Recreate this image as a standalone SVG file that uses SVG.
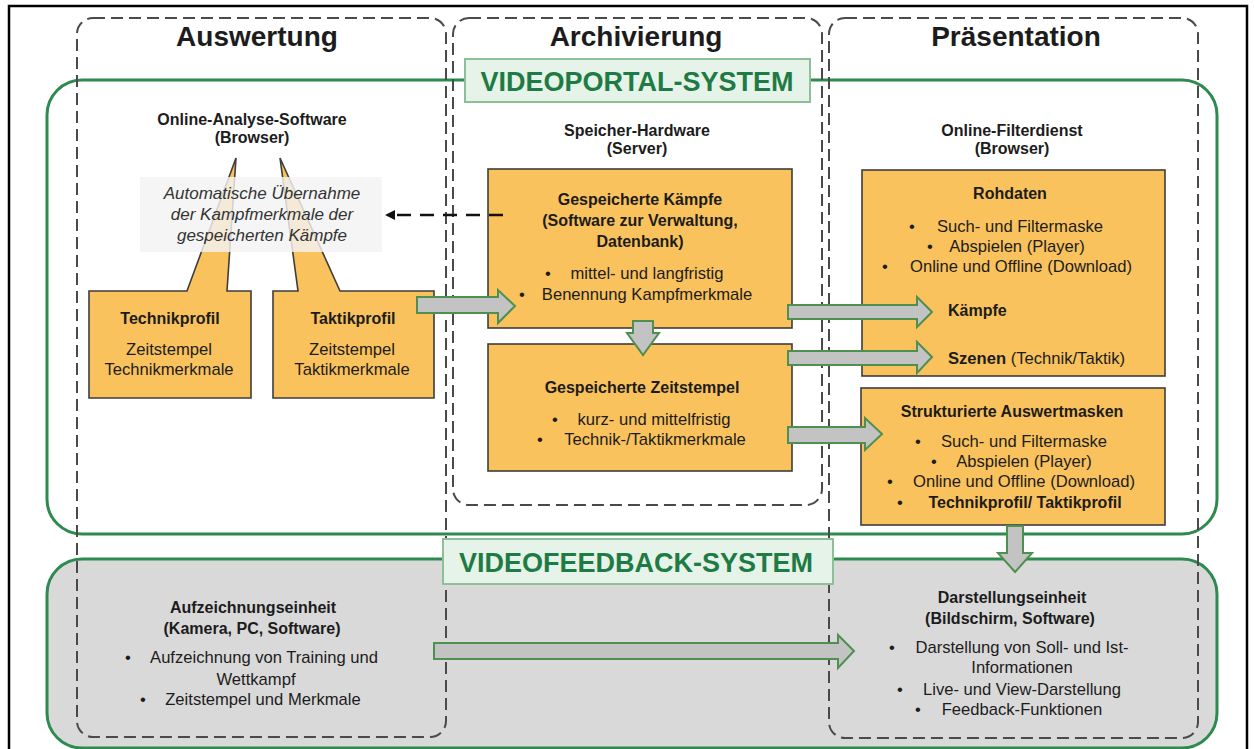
<svg xmlns="http://www.w3.org/2000/svg" width="1255" height="749" viewBox="0 0 1255 749">
<defs>
<style>
.t{font-family:"Liberation Sans",Arial,sans-serif;fill:#1c1c1c;}
.h{font-size:28px;font-weight:bold;text-anchor:middle;}
.b{font-size:16px;font-weight:bold;}
.r{font-size:16.6px;}
.m{text-anchor:middle;}
.i{font-size:17px;font-style:italic;text-anchor:middle;fill:#333;}
.sys{font-family:"Liberation Sans",Arial,sans-serif;font-size:27px;font-weight:bold;fill:#1e7b45;text-anchor:middle;}
.col{fill:none;stroke:#4a4a4a;stroke-width:2;stroke-dasharray:12 6;}
.box{fill:#f9c25c;stroke:#3d3d3d;stroke-width:1.6;}
.arr{fill:#c3c3c3;stroke:#4f8f4f;stroke-width:2;stroke-linejoin:miter;}
.lbl{fill:#e6f3e8;stroke:#8dbf98;stroke-width:2;}
</style>
<marker id="ah" viewBox="0 0 10 10" refX="2" refY="5" markerWidth="4" markerHeight="4" orient="auto-start-reverse">
<path d="M0,0 L10,5 L0,10 z" fill="#111"/>
</marker>
</defs>
<rect x="0" y="0" width="1255" height="749" fill="#fff"/>
<rect x="9" y="6" width="1238" height="770" fill="none" stroke="#000" stroke-width="2.5"/>

<g id="videofeedback-system">
<rect x="47" y="559" width="1170" height="189" rx="35" fill="#d9d9d9" stroke="#2f8a50" stroke-width="3"/>
</g>
<g id="videoportal-system">
<rect x="47" y="80" width="1170" height="454" rx="35" fill="none" stroke="#2f8a50" stroke-width="3"/>
</g>

<g id="col-auswertung">
<rect class="col" x="77" y="18" width="369" height="719" rx="16"/>
<text class="t h" x="257" y="46">Auswertung</text>
</g>
<g id="col-archivierung">
<rect class="col" x="453" y="18" width="369" height="487" rx="16"/>
<text class="t h" x="636" y="46">Archivierung</text>
</g>
<g id="col-praesentation">
<rect class="col" x="829" y="18" width="369" height="720" rx="16"/>
<text class="t h" x="1016" y="46">Präsentation</text>
</g>

<g id="label-videoportal">
<rect class="lbl" x="465" y="59" width="345" height="43"/>
<text class="sys" x="637" y="91">VIDEOPORTAL-SYSTEM</text>
</g>
<g id="label-videofeedback">
<rect class="lbl" x="443" y="539" width="390" height="45"/>
<text class="sys" x="636" y="572">VIDEOFEEDBACK-SYSTEM</text>
</g>

<g id="online-analyse-software">
<text class="t b m" x="252" y="125">Online-Analyse-Software</text>
<text class="t b m" x="252" y="143">(Browser)</text>
</g>

<g id="technikprofil">
<path class="box" d="M89,291 L187,291 L236,158 L227,291 L251,291 L251,398 L89,398 Z"/>
<text class="t b m" x="170" y="324">Technikprofil</text>
<text class="t r m" x="169" y="355">Zeitstempel</text>
<text class="t r m" x="169" y="375">Technikmerkmale</text>
</g>
<g id="taktikprofil">
<path class="box" d="M273,291 L298,291 L280,158 L340,291 L434,291 L434,398 L273,398 Z"/>
<text class="t b m" x="353" y="324">Taktikprofil</text>
<text class="t r m" x="352" y="355">Zeitstempel</text>
<text class="t r m" x="352" y="375">Taktikmerkmale</text>
</g>

<g id="uebernahme-hinweis">
<rect x="140" y="177" width="242" height="75" fill="#f3f3f3" fill-opacity="0.82"/>
<text class="t i" x="262" y="199">Automatische Übernahme</text>
<text class="t i" x="262" y="220">der Kampfmerkmale der</text>
<text class="t i" x="262" y="241">gespeicherten Kämpfe</text>
</g>

<g id="speicher-hardware">
<text class="t b m" x="637" y="136">Speicher-Hardware</text>
<text class="t b m" x="637" y="154">(Server)</text>
</g>

<g id="gespeicherte-kaempfe">
<rect class="box" x="488" y="169" width="304" height="159"/>
<text class="t b m" x="640" y="205">Gespeicherte Kämpfe</text>
<text class="t b m" x="640" y="226">(Software zur Verwaltung,</text>
<text class="t b m" x="640" y="247">Datenbank)</text>
<text class="t r" x="545" y="279">•</text>
<text class="t r m" x="647" y="279">mittel- und langfristig</text>
<text class="t r" x="519" y="300">•</text>
<text class="t r m" x="647" y="300">Benennung Kampfmerkmale</text>
</g>

<g id="gespeicherte-zeitstempel">
<rect class="box" x="488" y="344" width="304" height="127"/>
<text class="t b m" x="642" y="393">Gespeicherte Zeitstempel</text>
<text class="t r" x="552" y="425">•</text>
<text class="t r m" x="654" y="425">kurz- und mittelfristig</text>
<text class="t r" x="537" y="445">•</text>
<text class="t r m" x="655" y="445">Technik-/Taktikmerkmale</text>
</g>

<g id="online-filterdienst">
<text class="t b m" x="1012" y="136">Online-Filterdienst</text>
<text class="t b m" x="1012" y="154">(Browser)</text>
</g>

<g id="rohdaten">
<rect class="box" x="862" y="170" width="303" height="206"/>
<text class="t b m" x="1010" y="199">Rohdaten</text>
<text class="t r" x="909" y="232">•</text>
<text class="t r m" x="1020" y="232">Such- und Filtermaske</text>
<text class="t r" x="927" y="252">•</text>
<text class="t r m" x="1017" y="252">Abspielen (Player)</text>
<text class="t r" x="882" y="272">•</text>
<text class="t r m" x="1021" y="272">Online und Offline (Download)</text>
<text class="t b" x="948" y="316">Kämpfe</text>
<text class="t r" x="948" y="364"><tspan font-weight="bold">Szenen</tspan> (Technik/Taktik)</text>
</g>

<g id="strukturierte-auswertmasken">
<rect class="box" x="861" y="388" width="304" height="137"/>
<text class="t b m" x="1012" y="417">Strukturierte Auswertmasken</text>
<text class="t r" x="915" y="447">•</text>
<text class="t r m" x="1024" y="447">Such- und Filtermaske</text>
<text class="t r" x="931" y="467">•</text>
<text class="t r m" x="1024" y="467">Abspielen (Player)</text>
<text class="t r" x="887" y="487">•</text>
<text class="t r m" x="1024" y="487">Online und Offline (Download)</text>
<text class="t r" x="897" y="508">•</text>
<text class="t b m" x="1025" y="508">Technikprofil/ Taktikprofil</text>
</g>

<g id="aufzeichnungseinheit">
<text class="t b m" x="253" y="613">Aufzeichnungseinheit</text>
<text class="t b m" x="252" y="634">(Kamera, PC, Software)</text>
<text class="t r" x="125" y="663">•</text>
<text class="t r m" x="264" y="663">Aufzeichnung von Training und</text>
<text class="t r m" x="256" y="685">Wettkampf</text>
<text class="t r" x="140" y="705">•</text>
<text class="t r m" x="263" y="705">Zeitstempel und Merkmale</text>
</g>

<g id="darstellungseinheit">
<text class="t b m" x="1012" y="603">Darstellungseinheit</text>
<text class="t b m" x="1010" y="624">(Bildschirm, Software)</text>
<text class="t r" x="889" y="653">•</text>
<text class="t r m" x="1022" y="653">Darstellung von Soll- und Ist-</text>
<text class="t r m" x="1022" y="673">Informationen</text>
<text class="t r" x="897" y="695">•</text>
<text class="t r m" x="1022" y="695">Live- und View-Darstellung</text>
<text class="t r" x="915" y="715">•</text>
<text class="t r m" x="1022" y="715">Feedback-Funktionen</text>
</g>

<g id="connectors">
<line x1="503" y1="215" x2="393" y2="215" stroke="#111" stroke-width="2.5" stroke-dasharray="14 9" marker-end="url(#ah)"/>
<path class="arr" d="M417,297 L498,297 L498,290 L515,306 L498,323 L498,313 L417,313 Z"/>
<path class="arr" d="M633,321 L653,321 L653,333 L659,333 L643,355 L627,333 L633,333 Z"/>
<path class="arr" d="M788,305 L917,305 L917,297 L932,312 L917,327 L917,319 L788,319 Z"/>
<path class="arr" d="M788,351 L917,351 L917,342 L932,357 L917,373 L917,365 L788,365 Z"/>
<path class="arr" d="M788,427 L865,427 L865,418 L882,434 L865,450 L865,443 L788,443 Z"/>
<path class="arr" d="M1007,526 L1023,526 L1023,553 L1032,553 L1015,572 L998,553 L1007,553 Z"/>
<path class="arr" d="M434,643 L838,643 L838,635 L854,651 L838,668 L838,659 L434,659 Z"/>
</g>
</svg>
